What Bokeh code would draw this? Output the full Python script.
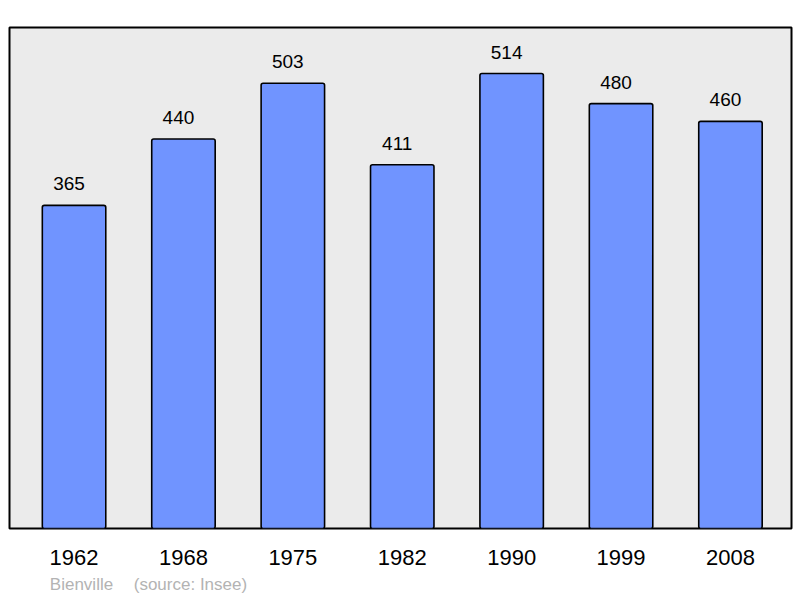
from bokeh.plotting import figure
from bokeh.models import ColumnDataSource, LabelSet, FixedTicker, Range1d, LinearAxis
from bokeh.core.properties import value
from bokeh.embed import file_html
from bokeh.resources import INLINE

years = ["1962", "1968", "1975", "1982", "1990", "1999", "2008"]
population = [365, 440, 503, 411, 514, 480, 460]
place = "Bienville"
source_note = "(source: Insee)"

xs = list(range(len(years)))
src = ColumnDataSource(dict(x=xs, y=population, lab=[str(v) for v in population]))

p = figure(width=798, height=596, output_backend="svg", toolbar_location=None,
           x_range=Range1d(-0.590, 6.558), y_range=Range1d(0, 566),
           min_border_left=9, min_border_right=7, min_border_top=27, min_border_bottom=68)
p.background_fill_color = "#ebebeb"
p.border_fill_color = "white"
p.outline_line_color = "black"
p.outline_line_width = 2
p.grid.visible = False
p.yaxis.visible = False

p.vbar(x="x", top="y", bottom=0, width=0.58, source=src,
       fill_color="#7094ff", line_color="black", line_width=1.6, border_radius=2)

labels = LabelSet(x="x", y="y", text="lab", source=src, y_offset=15, x_offset=-5,
                  text_align="center", text_baseline="alphabetic",
                  text_font=value("Liberation Sans"), text_font_size="19px", text_color="black")
p.add_layout(labels)

ax = p.xaxis[0]
ax.ticker = FixedTicker(ticks=xs)
ax.major_label_overrides = {i: y for i, y in zip(xs, years)}
ax.axis_line_color = None
ax.major_tick_line_color = None
ax.minor_tick_line_color = None
ax.major_tick_out = 0
ax.major_tick_in = 0
ax.major_label_standoff = 21
ax.major_label_text_font = "Liberation Sans"
ax.major_label_text_font_size = "22px"
ax.major_label_text_color = "black"

cap_pos = [0.068, 1.064]
cap = LinearAxis(ticker=FixedTicker(ticks=cap_pos),
                 major_label_overrides={cap_pos[0]: place, cap_pos[1]: source_note})
cap.axis_line_color = None
cap.major_tick_line_color = None
cap.minor_tick_line_color = None
cap.major_tick_out = 0
cap.major_tick_in = 0
cap.major_label_standoff = 7
cap.major_label_text_font = "Liberation Sans"
cap.major_label_text_font_size = "17px"
cap.major_label_text_color = "#b3b3b3"
p.add_layout(cap, "below")

open("out.html", "w").write(file_html(p, INLINE))
